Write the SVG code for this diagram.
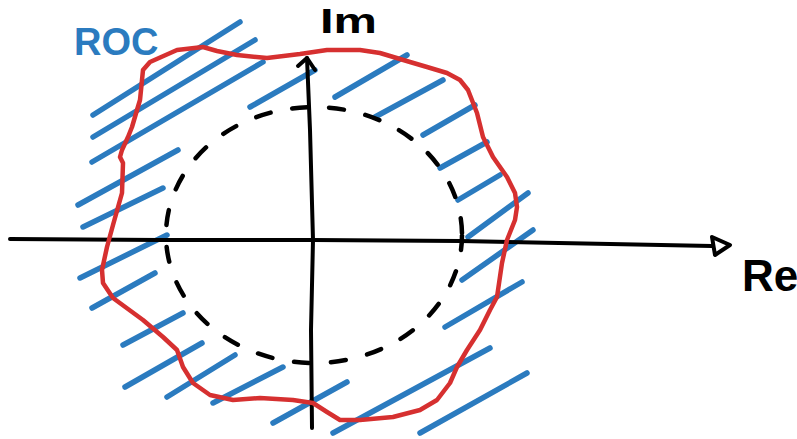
<svg xmlns="http://www.w3.org/2000/svg" width="797" height="439" viewBox="0 0 797 439">
<style>
.hatch{stroke:#2b7bbf;stroke-width:5.5;stroke-linecap:round;fill:none}
.axis{stroke:#000;stroke-width:4;stroke-linecap:round;stroke-linejoin:round;fill:none}
.roc{stroke:#d63030;stroke-width:4.5;stroke-linejoin:round;stroke-linecap:round;fill:none}
.unit{stroke:#000;stroke-width:4.5;stroke-linecap:round;fill:none;stroke-dasharray:15 22}
.lbl{font-family:"Liberation Sans",Arial,sans-serif;font-weight:bold}
</style>
<rect width="797" height="439" fill="#fff"/>
<g id="hatching">
<line class="hatch" x1="93" y1="115" x2="240" y2="22"/>
<line class="hatch" x1="93" y1="137" x2="255" y2="40"/>
<line class="hatch" x1="92" y1="162" x2="263" y2="62"/>
<line class="hatch" x1="78" y1="205" x2="178" y2="150"/>
<line class="hatch" x1="83" y1="227" x2="163" y2="188"/>
<line class="hatch" x1="80" y1="278" x2="167" y2="235"/>
<line class="hatch" x1="92" y1="308" x2="155" y2="273"/>
<line class="hatch" x1="123" y1="345" x2="183" y2="313"/>
<line class="hatch" x1="125" y1="387" x2="202" y2="343"/>
<line class="hatch" x1="167" y1="397" x2="235" y2="355"/>
<line class="hatch" x1="213" y1="403" x2="283" y2="367"/>
<line class="hatch" x1="273" y1="423" x2="347" y2="382"/>
<line class="hatch" x1="333" y1="433" x2="490" y2="348"/>
<line class="hatch" x1="420" y1="433" x2="527" y2="373"/>
<line class="hatch" x1="445" y1="327" x2="522" y2="282"/>
<line class="hatch" x1="462" y1="280" x2="533" y2="230"/>
<line class="hatch" x1="468" y1="237" x2="528" y2="193"/>
<line class="hatch" x1="458" y1="200" x2="500" y2="175"/>
<line class="hatch" x1="440" y1="168" x2="487" y2="142"/>
<line class="hatch" x1="423" y1="135" x2="475" y2="105"/>
<line class="hatch" x1="375" y1="117" x2="443" y2="80"/>
<line class="hatch" x1="335" y1="97" x2="407" y2="55"/>
<line class="hatch" x1="250" y1="107" x2="315" y2="70"/>
</g>
<g id="unit-circle">
<ellipse class="unit" cx="314" cy="235" rx="148" ry="128"/>
</g>
<g id="connectors">
<path id="re-axis" class="axis" d="M10,239 L160,240 L313,240 L460,241 L712,246"/>
<path id="re-arrow" class="axis" d="M712,237 L730,245 L715,255 Z"/>
<path id="im-axis" class="axis" d="M312,428 L311,330 L313,240 L310,130 L307,58"/>
<path id="im-arrow" class="axis" d="M298,66 L307,58 L315,70"/>
</g>
<g id="roc-boundary">
<path class="roc" d="M143,70 L150,62 L177,50 L203,47 L217,51 L237,55 L267,58 L300,54 L327,50 L360,50 L380,53 L410,62 L427,67 L447,73 L460,80 L468,90 L477,113 L483,137 L493,157 L507,177 L515,193 L517,207 L515,220 L507,240 L502,263 L497,297 L490,310 L480,330 L467,350 L457,367 L450,383 L437,400 L420,410 L393,417 L360,420 L340,420 L327,412 L313,403 L293,400 L260,398 L233,400 L210,395 L193,383 L183,367 L177,350 L163,337 L143,320 L113,298 L103,283 L102,270 L107,247 L113,225 L122,193 L123,163 L120,157 L122,150 L128,137 L132,127 L137,110 L140,100 L142,80 Z"/>
</g>
<g id="labels">
<text class="lbl" x="74" y="55" font-size="38" fill="#2b7bbf">ROC</text>
<text class="lbl" x="320" y="33" font-size="35" fill="#000" textLength="57" lengthAdjust="spacingAndGlyphs">Im</text>
<text class="lbl" x="742" y="291" font-size="44" fill="#000">Re</text>
</g>
</svg>
